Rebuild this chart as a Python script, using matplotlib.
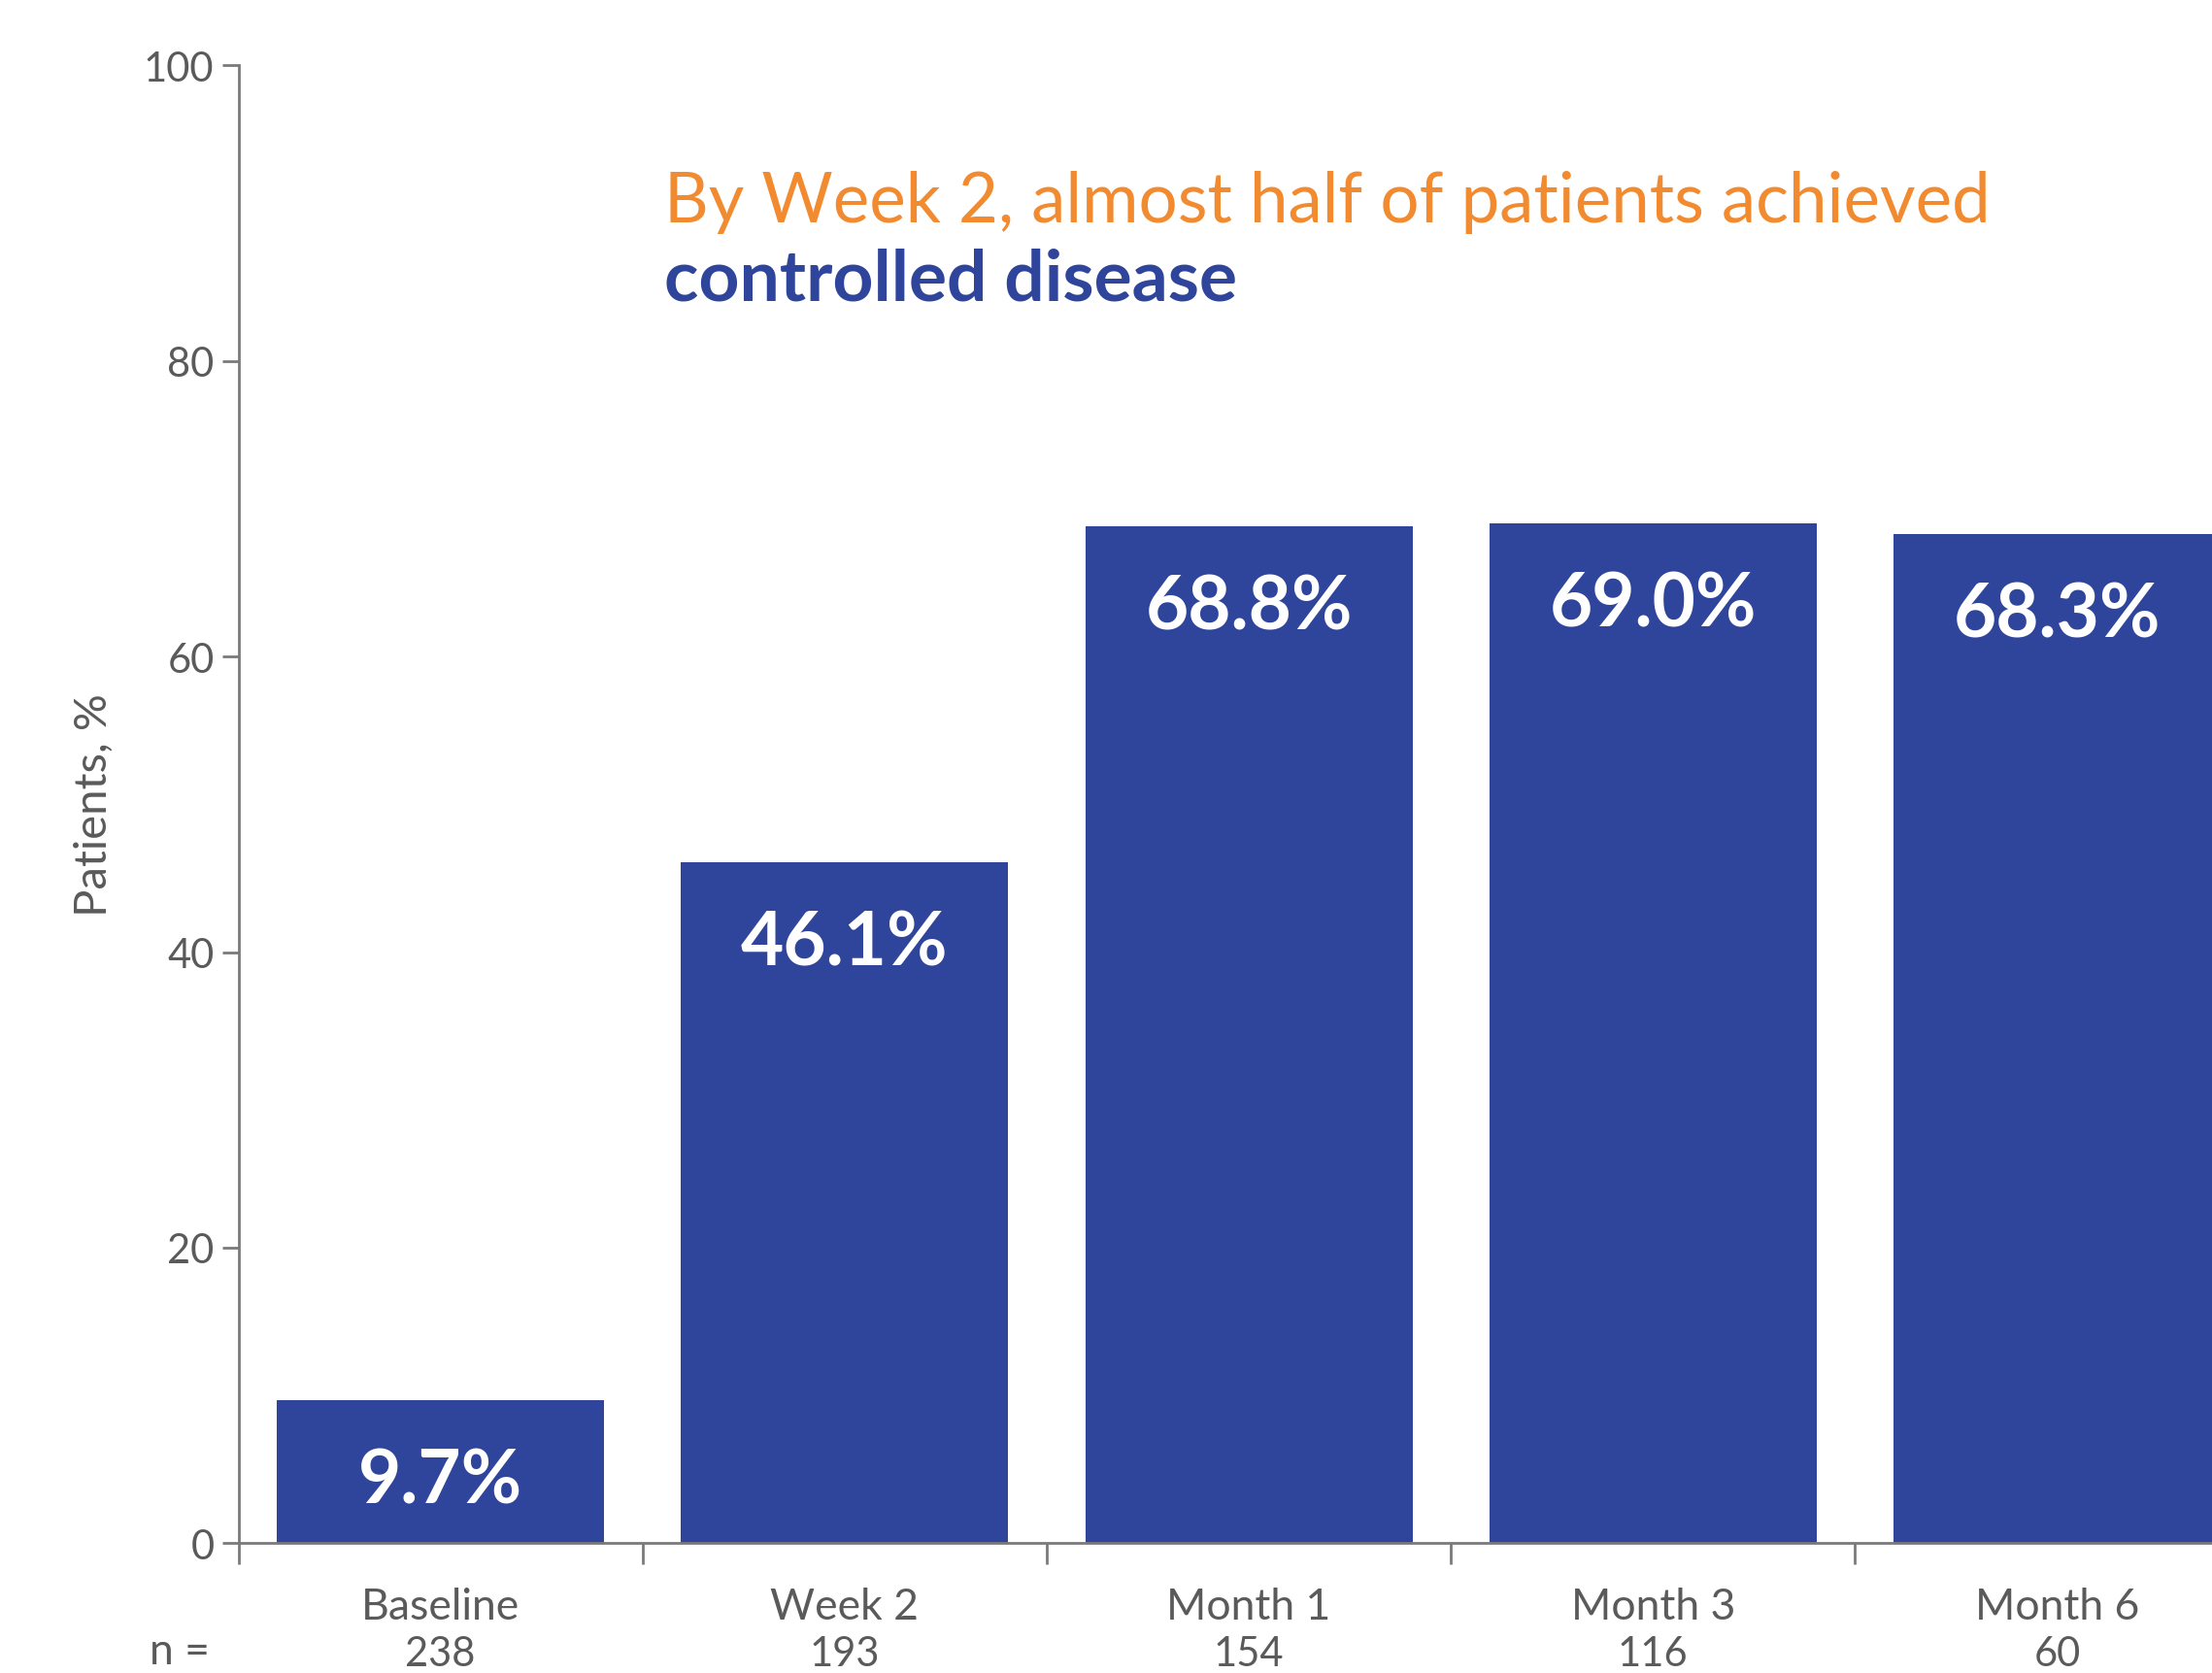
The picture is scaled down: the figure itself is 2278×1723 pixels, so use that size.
import matplotlib
matplotlib.use("Agg")
import matplotlib.pyplot as plt

categories = ["Baseline", "Week 2", "Month 1", "Month 3", "Month 6"]
n_values = ["238", "193", "154", "116", "60"]
percent = [9.7, 46.1, 68.8, 69.0, 68.3]
yticks = [0, 20, 40, 60, 80, 100]

BAR = "#2F459C"
ORANGE = "#F28A30"
GRAY = "#5A5A5A"
SPINE = "#7A7A7A"
FONT = ["Lato", "DejaVu Sans"]
plt.rcParams['font.family'] = FONT

W, H, DPI = 2278, 1724, 200
fig = plt.figure(figsize=(W / DPI, H / DPI), dpi=DPI)
ax = fig.add_axes([169 / 1568, 1 - 1095 / 1187, (1601.5 - 169) / 1568, (1095 - 47) / 1187])

x = list(range(len(categories)))
ax.bar(x, percent, width=0.81, color=BAR, zorder=2)
ax.set_xlim(-0.5, len(categories) - 0.5)
ax.set_ylim(0, 100)

for s in ["top", "right"]:
    ax.spines[s].set_visible(False)
for s in ["left", "bottom"]:
    ax.spines[s].set_color(SPINE)
    ax.spines[s].set_linewidth(1.0)

ax.set_yticks(yticks)
ax.set_yticklabels([str(v) for v in yticks])
ax.tick_params(axis="y", direction="out", length=6, width=1.0, color=SPINE,
               labelsize=15, labelcolor=GRAY, pad=3)
ax.set_xticks([i - 0.5 for i in x])
ax.set_xticklabels([])
ax.tick_params(axis="x", direction="out", length=8, width=1.0, color=SPINE)

ax.set_ylabel("Patients, %", fontsize=17, color=GRAY, labelpad=11)

for xi, cat, nv, p in zip(x, categories, n_values, percent):
    ax.annotate(cat, xy=(xi, 0), xycoords=("data", "axes fraction"),
                xytext=(0, -23.5), textcoords="offset points",
                ha="center", va="center", fontsize=16, color=GRAY)
    ax.annotate(nv, xy=(xi, 0), xycoords=("data", "axes fraction"),
                xytext=(0, -41), textcoords="offset points",
                ha="center", va="center", fontsize=15, color=GRAY)
    ax.annotate(f"{p:.1f}%", xy=(xi, p), xycoords="data",
                xytext=(0, -30), textcoords="offset points",
                ha="center", va="center", fontsize=27.5, fontweight="bold",
                color="white", zorder=3)

fig.text(185 / W, 1 - 1702 / H, "n =", ha="center", va="center", fontsize=16, color=GRAY)

fig.text(684 / W, 1 - 229 / H, "By Week 2, almost half of patients achieved",
         ha="left", va="baseline", fontsize=25.5, color=ORANGE)
fig.text(684 / W, 1 - 310 / H, "controlled disease",
         ha="left", va="baseline", fontsize=26.4, fontweight="bold", color=BAR)

fig.savefig("out.png", dpi=DPI)
